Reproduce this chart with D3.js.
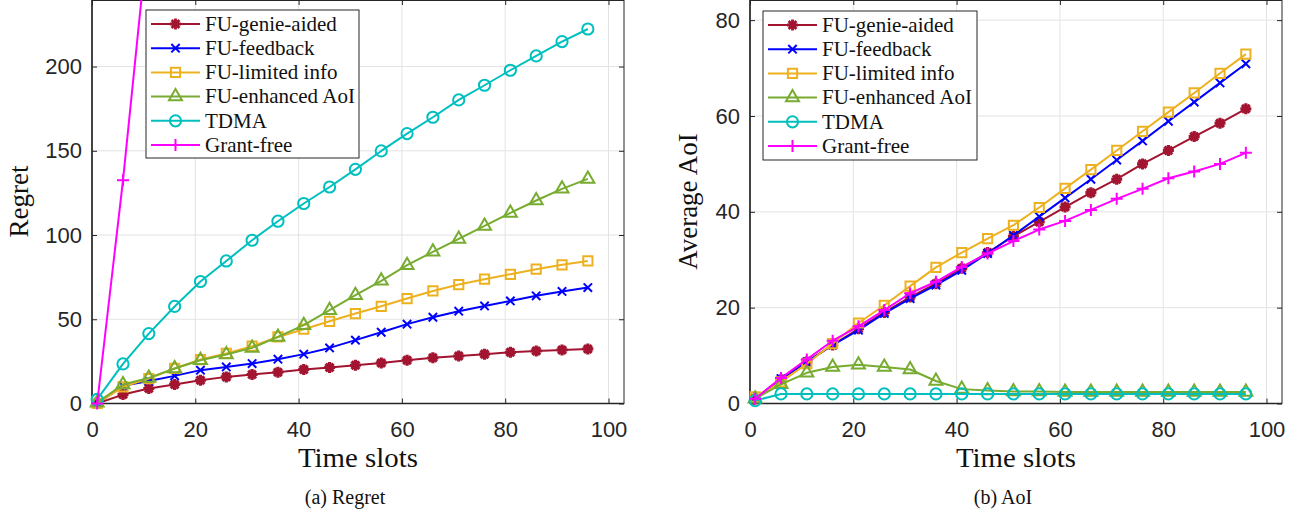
<!DOCTYPE html>
<html>
<head>
<meta charset="utf-8">
<script src="https://cdn.jsdelivr.net/npm/d3@7"></script>
<style>
  body { margin: 0; background: #fff; }
  svg { display: block; }
  .tick text { font-family: "Liberation Sans", Arial, sans-serif; font-size: 22px; fill: #262626; }
  .tick line { stroke: #262626; }
  .domain { stroke: none; }
  .serif { font-family: "Liberation Serif", "Times New Roman", serif; fill: #111; }
</style>
</head>
<body>
<svg id="fig" width="1300" height="517"></svg>
<script>
const timeSlots = [1, 6, 11, 16, 21, 26, 31, 36, 41, 46, 51, 56, 61, 66, 71, 76, 81, 86, 91, 96];
const seriesNames = ['FU-genie-aided', 'FU-feedback', 'FU-limited info', 'FU-enhanced AoI', 'TDMA', 'Grant-free'];
const xTicks = [0, 20, 40, 60, 80, 100];

// (a) regret
const regretGenie = [0, 5.3, 8.9, 11.3, 13.8, 15.8, 17.2, 18.6, 20.2, 21.4, 22.7, 24.1, 25.7, 27.1, 28.2, 29.3, 30.4, 31.2, 31.8, 32.4];
const regretFeedback = [0, 10.5, 13.4, 16.4, 19.8, 21.7, 23.7, 26.3, 29.3, 33, 37.6, 42.3, 47.1, 51.2, 54.8, 57.9, 60.9, 63.9, 66.5, 68.8];
const regretLimited = [0, 9.9, 14.8, 20.8, 26.1, 29.7, 34, 39.5, 44.1, 48.8, 53.4, 57.7, 62.3, 66.8, 70.6, 73.8, 76.7, 79.7, 82.3, 84.6];
const regretEnhanced = [0.5, 11.3, 15.2, 20.8, 25.7, 29.1, 33, 39.5, 46.5, 55.4, 64.3, 72.8, 82.1, 90, 97.7, 105.4, 113.1, 120.5, 127.4, 133.3];
const regretTdma = [2.4, 23.5, 41.5, 57.6, 72.4, 84.6, 96.9, 108.2, 118.7, 128.5, 139, 149.9, 160.2, 169.9, 180.2, 188.9, 197.8, 206.3, 214.8, 222.3];
// grant-free leaves the plot after the second point; later values are off-chart
const regretGrantFree = [0, 132.5, 283];
const regretTicks = [0, 50, 100, 150, 200];

// (b) average AoI
const aoiGenie = [1, 5, 8.7, 12.2, 15.6, 19, 22.2, 25, 28.2, 31.5, 34.9, 37.9, 41, 44, 46.8, 50, 52.8, 55.7, 58.5, 61.5];
const aoiFeedback = [1, 5.2, 8.7, 12.2, 15.3, 18.8, 21.9, 24.7, 27.8, 31.3, 35.1, 39, 42.9, 46.8, 50.8, 54.8, 58.9, 62.9, 66.9, 70.9];
const aoiLimited = [1.4, 4.5, 8.3, 12.5, 16.8, 20.5, 24.5, 28.4, 31.5, 34.4, 37.2, 40.9, 44.9, 48.8, 52.8, 56.8, 60.8, 64.8, 68.9, 72.9];
const aoiEnhanced = [1, 4, 6.4, 7.6, 8.1, 7.6, 7.1, 4.7, 3, 2.7, 2.5, 2.5, 2.4, 2.4, 2.4, 2.4, 2.4, 2.4, 2.4, 2.4];
const aoiTdma = [0.6, 2, 2, 2, 2, 2, 2, 2, 2, 2, 2, 2, 2, 2, 2, 2, 2, 2, 2, 2];
const aoiGrantFree = [1, 5.3, 9.2, 13.1, 16.1, 19.5, 23, 25.4, 28.5, 31.3, 33.9, 36.3, 38.1, 40.4, 42.7, 44.8, 47, 48.4, 50, 52.3];
const aoiTicks = [0, 20, 40, 60, 80];

const colors = ['#A2142F', '#0000FF', '#EDB120', '#77AC30', '#00BFBF', '#FF00FF'];
const markers = ['asterisk', 'times', 'square', 'triangle', 'circle', 'plus'];

const svg = d3.select('#fig');

function markerPath(type) {
  if (type === 'asterisk') {
    const r = 5.5, a = r * 0.707;
    return `M0,${-r}L0,${r}M${-r},0L${r},0M${-a},${-a}L${a},${a}M${-a},${a}L${a},${-a}`;
  }
  if (type === 'times') { const r = 4.2; return `M${-r},${-r}L${r},${r}M${-r},${r}L${r},${-r}`; }
  if (type === 'square') { const r = 4.6; return `M${-r},${-r}H${r}V${r}H${-r}Z`; }
  if (type === 'triangle') { const r = 7.5; return `M0,${-r}L${r * 0.866},${r * 0.5}L${-r * 0.866},${r * 0.5}Z`; }
  if (type === 'circle') { const r = 5.6; return `M${r},0A${r},${r} 0 1,1 ${-r},0A${r},${r} 0 1,1 ${r},0Z`; }
  const r = 6; return `M0,${-r}L0,${r}M${-r},0L${r},0`;
}

function drawPanel(opts) {
  const x = d3.scaleLinear().domain([0, 103]).range([opts.left, opts.right]);
  const y = d3.scaleLinear().domain([0, opts.yMax]).range([403.5, 0]);
  const g = svg.append('g');

  // grid
  g.append('g').selectAll('line').data(xTicks).join('line')
    .attr('x1', d => x(d)).attr('x2', d => x(d)).attr('y1', 0).attr('y2', 403.5)
    .attr('stroke', '#e3e3e3').attr('stroke-width', 1);
  g.append('g').selectAll('line').data(opts.yTicks).join('line')
    .attr('x1', opts.left).attr('x2', opts.right).attr('y1', d => y(d)).attr('y2', d => y(d))
    .attr('stroke', '#e3e3e3').attr('stroke-width', 1);

  // axes, ticks pointing inward
  g.append('g').attr('transform', `translate(0,${y(0)})`)
    .call(d3.axisBottom(x).tickValues(xTicks).tickSize(-5).tickSizeOuter(0).tickPadding(18));
  g.append('g').attr('transform', `translate(0,${y(opts.yMax)})`)
    .call(d3.axisTop(x).tickValues(xTicks).tickSize(-5).tickSizeOuter(0).tickFormat(''));
  g.append('g').attr('transform', `translate(${opts.left},0)`)
    .call(d3.axisLeft(y).tickValues(opts.yTicks).tickSize(-5).tickSizeOuter(0).tickPadding(10));
  g.append('g').attr('transform', `translate(${opts.right},0)`)
    .call(d3.axisRight(y).tickValues(opts.yTicks).tickSize(-5).tickSizeOuter(0).tickFormat(''));

  g.append('rect')
    .attr('x', opts.left).attr('y', 0.5)
    .attr('width', opts.right - opts.left).attr('height', 403.5 - 0.5)
    .attr('fill', 'none').attr('stroke', '#262626').attr('stroke-width', 1);
  g.append('line').attr('x1', opts.left).attr('x2', opts.right).attr('y1', 403.5).attr('y2', 403.5)
    .attr('stroke', '#262626').attr('stroke-width', 1.4);
  g.append('line').attr('x1', opts.left).attr('x2', opts.left).attr('y1', 0).attr('y2', 403.5)
    .attr('stroke', '#262626').attr('stroke-width', 1.4);

  const clipId = 'clip-' + opts.id;
  svg.append('clipPath').attr('id', clipId).append('rect')
    .attr('x', opts.left).attr('y', 0).attr('width', opts.right - opts.left).attr('height', 403.5);

  const line = d3.line().x(d => x(d[0])).y(d => y(d[1]));

  opts.series.forEach(function (values, i) {
    const pts = values.map((v, j) => [timeSlots[j], v]);
    g.append('path')
      .attr('d', line(pts))
      .attr('clip-path', `url(#${clipId})`)
      .attr('fill', 'none')
      .attr('stroke', colors[i])
      .attr('stroke-width', 2)
      .attr('stroke-linejoin', 'round');
    g.append('g').selectAll('path')
      .data(pts.filter(p => p[1] <= opts.yMax))
      .join('path')
      .attr('transform', p => `translate(${x(p[0])},${y(p[1])})`)
      .attr('d', markerPath(markers[i]))
      .attr('fill', 'none')
      .attr('stroke', colors[i])
      .attr('stroke-width', markers[i] === 'asterisk' ? 3.2 : 2);
  });

  // legend
  const lg = g.append('g');
  lg.append('rect')
    .attr('x', opts.legend.x).attr('y', opts.legend.y)
    .attr('width', opts.legend.w).attr('height', opts.legend.h)
    .attr('fill', '#fff').attr('stroke', '#262626').attr('stroke-width', 1);
  seriesNames.forEach(function (name, i) {
    const ry = opts.legend.y + 14 + i * 24.2;
    const lx = opts.legend.x + 5;
    lg.append('line')
      .attr('x1', lx).attr('x2', lx + 49).attr('y1', ry).attr('y2', ry)
      .attr('stroke', colors[i]).attr('stroke-width', 2);
    lg.append('path')
      .attr('transform', `translate(${lx + 24.5},${ry})`)
      .attr('d', markerPath(markers[i]))
      .attr('fill', 'none').attr('stroke', colors[i])
      .attr('stroke-width', markers[i] === 'asterisk' ? 2.8 : 2);
    lg.append('text').attr('class', 'serif')
      .attr('x', lx + 54).attr('y', ry + 6.8)
      .style('font-size', '21px')
      .text(name);
  });

  // labels
  const cx = (opts.left + opts.right) / 2;
  g.append('text').attr('class', 'serif')
    .attr('x', cx).attr('y', 467)
    .attr('text-anchor', 'middle')
    .attr('textLength', 120).attr('lengthAdjust', 'spacingAndGlyphs')
    .style('font-size', '27px')
    .text('Time slots');
  g.append('text').attr('class', 'serif')
    .attr('transform', `translate(${opts.yLabelX},201.5) rotate(-90)`)
    .attr('text-anchor', 'middle')
    .style('font-size', '27px')
    .text(opts.yLabel);
  g.append('text').attr('class', 'serif')
    .attr('x', opts.captionX).attr('y', 503.5)
    .attr('text-anchor', 'middle')
    .style('font-size', '20px')
    .text(opts.caption);
}

drawPanel({
  id: 'a', left: 92, right: 624, yMax: 239.5, yTicks: regretTicks,
  series: [regretGenie, regretFeedback, regretLimited, regretEnhanced, regretTdma, regretGrantFree],
  legend: { x: 146, y: 10, w: 213, h: 148 },
  yLabel: 'Regret', yLabelX: 28, caption: '(a) Regret', captionX: 345
});

drawPanel({
  id: 'b', left: 750, right: 1282, yMax: 84.2, yTicks: aoiTicks,
  series: [aoiGenie, aoiFeedback, aoiLimited, aoiEnhanced, aoiTdma, aoiGrantFree],
  legend: { x: 763, y: 11, w: 214, h: 149 },
  yLabel: 'Average AoI', yLabelX: 697, caption: '(b) AoI', captionX: 1003
});
</script>
</body>
</html>
